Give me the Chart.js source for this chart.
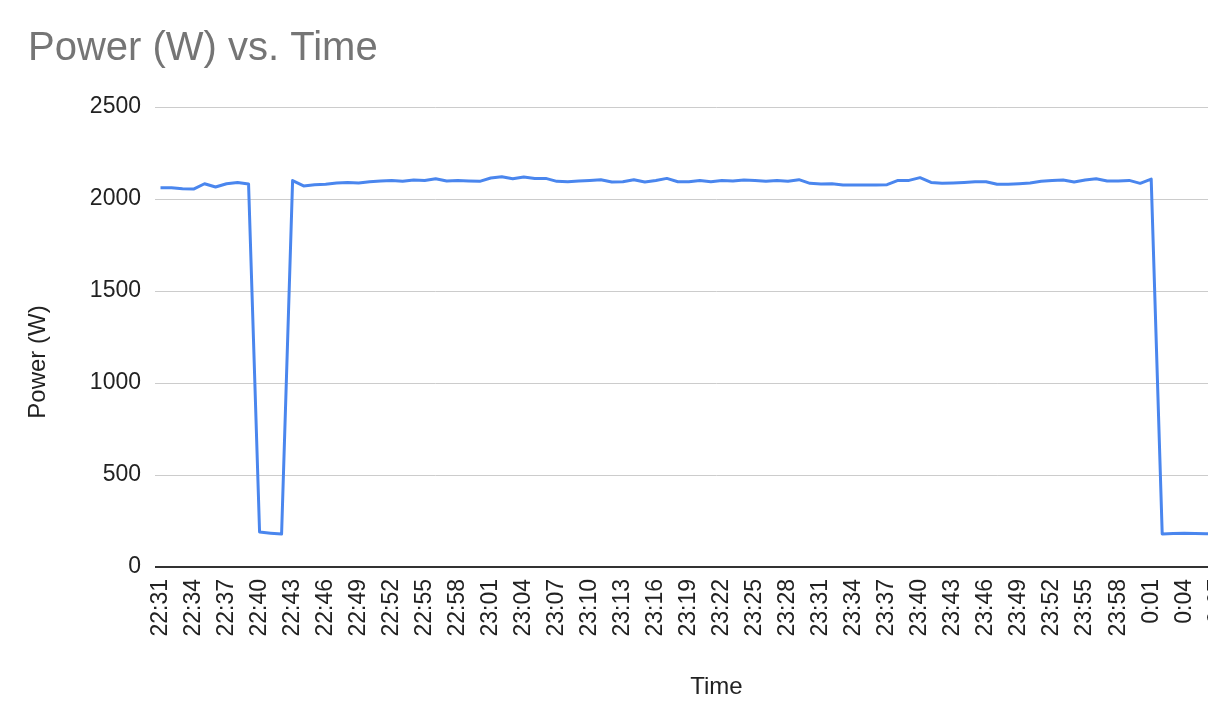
<!DOCTYPE html>
<html><head><meta charset="utf-8">
<script src="https://cdn.jsdelivr.net/npm/chart.js@4"></script>
<style>html,body{margin:0;padding:0;overflow:hidden;background:#fff;}canvas{display:block;}</style>
</head><body>
<canvas id="c" width="1312" height="724" style="width:1312px;height:724px"></canvas>
<script>
const TITLE = 'Power (W) vs. Time';
const X_TITLE = 'Time';
const Y_TITLE = 'Power (W)';
const times = [
'22:31','22:32','22:33','22:34','22:35','22:36','22:37','22:38','22:39','22:40',
'22:41','22:42','22:43','22:44','22:45','22:46','22:47','22:48','22:49','22:50',
'22:51','22:52','22:53','22:54','22:55','22:56','22:57','22:58','22:59','23:00',
'23:01','23:02','23:03','23:04','23:05','23:06','23:07','23:08','23:09','23:10',
'23:11','23:12','23:13','23:14','23:15','23:16','23:17','23:18','23:19','23:20',
'23:21','23:22','23:23','23:24','23:25','23:26','23:27','23:28','23:29','23:30',
'23:31','23:32','23:33','23:34','23:35','23:36','23:37','23:38','23:39','23:40',
'23:41','23:42','23:43','23:44','23:45','23:46','23:47','23:48','23:49','23:50',
'23:51','23:52','23:53','23:54','23:55','23:56','23:57','23:58','23:59','0:00',
'0:01','0:02','0:03','0:04','0:05','0:06','0:07','0:08','0:09','0:10',
'0:11','0:12'];
const power = [
2061,2061,2056,2054,2083,2065,2083,2090,2081,190,
184,179,2100,2071,2078,2080,2087,2090,2087,2094,
2098,2101,2096,2103,2100,2110,2098,2100,2098,2096,
2114,2121,2110,2119,2112,2112,2096,2094,2098,2101,
2105,2092,2094,2105,2092,2101,2112,2094,2094,2101,
2094,2100,2098,2103,2101,2096,2100,2096,2105,2085,
2081,2083,2076,2076,2076,2076,2078,2101,2101,2116,
2090,2085,2087,2090,2094,2094,2080,2080,2083,2087,
2096,2100,2103,2092,2103,2110,2098,2098,2101,2085,
2108,180,182,183,182,181,181,180,181,180,
181,180];
const yTicks = [0, 500, 1000, 1500, 2000, 2500];
const LABEL_EVERY = 3;

const FONT = "'Liberation Sans', Arial, Helvetica, sans-serif";

const yTitlePlugin = {
  id: 'yTitle',
  afterDraw(chart) {
    const ctx = chart.ctx, a = chart.chartArea;
    ctx.save();
    ctx.translate(a.left - 116.5, (a.top + a.bottom) / 2 + 25);
    ctx.rotate(-Math.PI / 2);
    ctx.font = '24px ' + FONT;
    ctx.fillStyle = '#222';
    ctx.textAlign = 'center';
    ctx.textBaseline = 'middle';
    ctx.fillText(Y_TITLE, 0, 0);
    ctx.restore();
  }
};

new Chart(document.getElementById('c'), {
  type: 'line',
  data: {
    labels: times,
    datasets: [{
      data: power,
      borderColor: '#4a86ee',
      borderWidth: 3,
      pointRadius: 0,
      tension: 0,
      fill: false,
      borderJoinStyle: 'round'
    }]
  },
  options: {
    responsive: false,
    animation: false,
    devicePixelRatio: 1,
    layout: { padding: { left: 28, right: 23, top: 0, bottom: 0 } },
    plugins: {
      legend: { display: false },
      tooltip: { enabled: false },
      title: {
        display: true,
        text: TITLE,
        align: 'start',
        color: '#757575',
        font: { family: FONT, size: 40, weight: 'normal', lineHeight: 1.2 },
        padding: { top: 25, bottom: 34 }
      }
    },
    scales: {
      x: {
        type: 'category',
        offset: true,
        grid: { display: false, drawTicks: false },
        border: { display: false },
        ticks: {
          autoSkip: false,
          minRotation: 90,
          maxRotation: 90,
          padding: 12,
          color: '#222',
          font: { family: FONT, size: 23 },
          callback: function(v, i) { return i % LABEL_EVERY === 0 ? times[i] : ''; }
        },
        title: {
          display: true,
          text: X_TITLE,
          color: '#222',
          font: { family: FONT, size: 24 },
          padding: { top: 0, bottom: 22 }
        },
        afterFit(s) { s.height = 157; }
      },
      y: {
        min: 0,
        max: 2500,
        grid: {
          drawTicks: false,
          color: c => c.tick && c.tick.value === 0 ? '#333' : '#cccccc',
          lineWidth: c => c.tick && c.tick.value === 0 ? 2 : 1
        },
        border: { display: false },
        ticks: {
          padding: 14,
          color: '#222',
          font: { family: FONT, size: 23 },
          callback: v => String(v)
        },
        afterBuildTicks(s) { s.ticks = yTicks.map(v => ({ value: v })); },
        afterFit(s) { s.width = 127; }
      }
    }
  },
  plugins: [yTitlePlugin]
});
</script>
</body></html>
